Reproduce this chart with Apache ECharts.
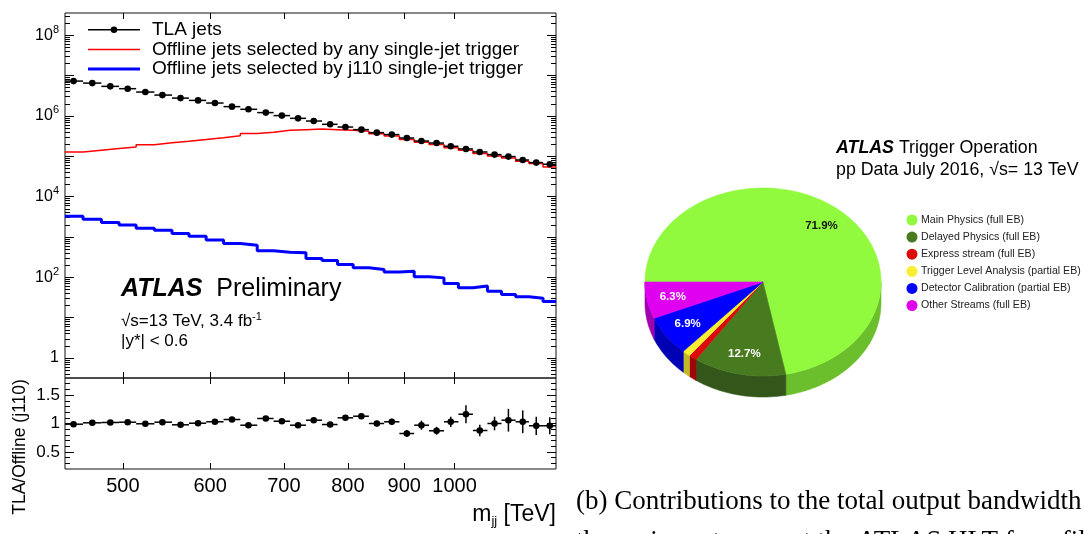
<!DOCTYPE html>
<html><head><meta charset="utf-8">
<script src="https://cdn.jsdelivr.net/npm/echarts@6/dist/echarts.min.js"></script>
<style>html,body{margin:0;padding:0;background:#fff}#c{width:1084px;height:534px}</style>
</head><body><div id="c"></div>
<script>
// ---------------- DATA ----------------
const binEdges = [443, 460, 478, 496, 514, 534, 554, 574, 595, 617, 639, 662, 685, 709, 733, 758, 783, 809, 836, 863, 891, 919, 948, 978, 1008, 1039, 1071, 1103, 1136, 1168, 1203, 1236];
const binCenters = [451, 469, 487, 505, 524, 543, 564, 585, 606, 628, 650, 674, 697, 721, 745, 771, 796, 823, 850, 877, 905, 933, 963, 992, 1024, 1054, 1087, 1119, 1153, 1186, 1220];
const tlaJets = [7.31e6, 6.52e6, 5.41e6, 4.74e6, 3.91e6, 3.29e6, 2.77e6, 2.43e6, 2.09e6, 1.70e6, 1.46e6, 1.21e6, 1.02e6, 8.73e5, 7.48e5, 6.20e5, 5.31e5, 4.58e5, 3.86e5, 3.45e5, 2.84e5, 2.39e5, 2.13e5, 1.77e5, 1.52e5, 1.28e5, 1.10e5, 9.84e4, 8.10e4, 6.98e4, 6.34e4];
const offlineAny = [1.28e5, 1.41e5, 1.55e5, 1.70e5, 1.93e5, 2.16e5, 2.35e5, 2.59e5, 2.90e5, 3.25e5, 3.65e5, 3.93e5, 4.40e5, 4.58e5, 4.74e5, 4.58e5, 4.40e5, 4.16e5, 3.60e5, 3.18e5, 2.59e5, 2.22e5, 1.95e5, 1.64e5, 1.41e5, 1.17e5, 1.02e5, 9.07e4, 7.52e4, 6.59e4, 5.43e4];
const offlineJ110 = [3270, 2760, 2290, 1995, 1650, 1470, 1220, 1047, 848, 690, 627, 453, 421, 404, 294, 262, 208, 172, 157, 135, 142, 103, 97, 70.6, 55, 60.6, 45.5, 37.7, 32.9, 30.5, 25.3];
const ratioVals = [0.988, 1.012, 1.018, 1.023, 0.995, 1.023, 0.977, 1.005, 1.030, 1.070, 0.970, 1.088, 1.040, 0.970, 1.058, 0.982, 1.100, 1.128, 1.000, 1.030, 0.824, 0.970, 0.872, 1.030, 1.163, 0.877, 1.000, 1.058, 1.030, 0.960, 0.960];
const ratioErrs = [0.01, 0.01, 0.01, 0.01, 0.01, 0.015, 0.015, 0.02, 0.02, 0.02, 0.025, 0.03, 0.03, 0.035, 0.035, 0.04, 0.045, 0.05, 0.05, 0.055, 0.06, 0.08, 0.07, 0.09, 0.16, 0.10, 0.12, 0.20, 0.20, 0.16, 0.15];
const seriesNames = ['TLA jets', 'Offline jets selected by any single-jet trigger', 'Offline jets selected by j110 single-jet trigger'];
const massTicks = [500, 600, 700, 800, 900, 1000];
const logLabelTicks = [1, 1e2, 1e4, 1e6, 1e8];
const logMajorTicks = [1, 10, 1e2, 1e3, 1e4, 1e5, 1e6, 1e7, 1e8];
const ratioLabelTicks = [0.5, 1, 1.5];
const ratioMinorTicks = [0.3, 0.4, 0.6, 0.7, 0.8, 0.9, 1.1, 1.2, 1.3, 1.4, 1.6, 1.7];

const streamNames = ['Main Physics (full EB)', 'Delayed Physics (full EB)', 'Express stream (full EB)', 'Trigger Level Analysis (partial EB)', 'Detector Calibration (partial EB)', 'Other Streams (full EB)'];
const streamShares = [71.9, 12.7, 1.1, 1.1, 6.9, 6.3];

// ---------------- STYLE ----------------
const SANS = 'Liberation Sans, Arial, Helvetica, sans-serif';
const SERIF = 'Liberation Serif, Times New Roman, serif';
const streamTop = ['#91fa3e', '#487a20', '#dc0a0a', '#f8ee32', '#0000ff', '#e000f0'];
const streamSide = ['#6cbf2c', '#33571a', '#9e0707', '#c2b826', '#0000b4', '#a000b0'];
const PIE = {cx: 763, cy: 282, rx: 118, ry: 94, depth: 21};

const logMinorTicks = [];
for (let k = -1; k <= 8; k++) for (let m = 2; m <= 9; m++) {
  const v = m * Math.pow(10, k);
  if (v > 0.32 && v < 3.56e8) logMinorTicks.push(v);
}

const chart = echarts.init(document.getElementById('c'), null, {renderer: 'canvas', width: 1084, height: 534});

const tickLine = {color: '#000', width: 1};
function xAx(grid, pos, labels) {
  return {
    gridIndex: grid, type: 'log', min: binEdges[0], max: binEdges[binEdges.length - 1], position: pos,
    axisLine: {show: false}, splitLine: {show: false},
    axisTick: {show: true, inside: true, length: 6, customValues: massTicks, lineStyle: tickLine},
    axisLabel: labels ? {show: true, customValues: massTicks, fontSize: 20, fontFamily: SANS, color: '#000', margin: 7,
      formatter: function (v) { return String(Math.round(v)); }} : {show: false}
  };
}
function logY(pos, ticks, len, labels) {
  return {
    gridIndex: 0, type: 'log', min: 0.32, max: 3.56e8, position: pos,
    axisLine: {show: false}, splitLine: {show: false},
    axisTick: {show: true, inside: true, length: len, customValues: ticks, lineStyle: tickLine},
    axisLabel: labels ? {
      show: true, customValues: logLabelTicks, margin: 6, color: '#000', fontFamily: SANS,
      formatter: function (v) {
        const e = Math.round(Math.log10(v));
        return e === 0 ? '{b|1}' : '{b|10}{s|' + e + '}';
      },
      rich: {b: {fontSize: 16, lineHeight: 22, fontFamily: SANS, color: '#000'},
             s: {fontSize: 11, lineHeight: 12, verticalAlign: 'top', fontFamily: SANS, color: '#000'}}
    } : {show: false}
  };
}
function ratioY(pos, ticks, len, labels) {
  return {
    gridIndex: 1, type: 'value', min: 0.2, max: 1.8, position: pos,
    axisLine: {show: false}, splitLine: {show: false},
    axisTick: {show: true, inside: true, length: len, customValues: ticks, lineStyle: tickLine},
    axisLabel: labels ? {show: true, customValues: ratioLabelTicks, margin: 5, fontSize: 17, fontFamily: SANS, color: '#000'} : {show: false}
  };
}

// data built from arrays
const tlaData = tlaJets.map((v, i) => [binEdges[i], binEdges[i + 1], binCenters[i], v]);
const ratioData = ratioVals.map((v, i) => [binEdges[i], binEdges[i + 1], binCenters[i], v, ratioErrs[i]]);
function stepData(vals) {
  const d = vals.map((v, i) => [binEdges[i], v]);
  d.push([binEdges[binEdges.length - 1], vals[vals.length - 1]]);
  return d;
}
const totalShare = streamShares.reduce((a, b) => a + b, 0);
const sliceAngles = [];
{ let acc = 0; streamShares.forEach(v => { const a0 = 180 + acc / totalShare * 360; acc += v; sliceAngles.push([a0, 180 + acc / totalShare * 360]); }); }

function ept(deg, dy, f) {
  const t = deg * Math.PI / 180; f = f || 1;
  return [PIE.cx + PIE.rx * f * Math.cos(t), PIE.cy + PIE.ry * f * Math.sin(t) + (dy || 0)];
}

const option = {
  animation: false,
  backgroundColor: '#fff',
  grid: [
    {left: 65, top: 13, width: 491, height: 365, show: true, borderColor: '#111', borderWidth: 1, backgroundColor: 'transparent', outerBoundsMode: 'none', containLabel: false},
    {left: 65, top: 378, width: 491, height: 91, show: true, borderColor: '#111', borderWidth: 1, backgroundColor: 'transparent', outerBoundsMode: 'none', containLabel: false}
  ],
  xAxis: [xAx(0, 'bottom', false), xAx(0, 'top', false), xAx(1, 'bottom', true), xAx(1, 'top', false)],
  yAxis: [
    logY('left', logMajorTicks, 9, true), logY('left', logMinorTicks, 5, false),
    logY('right', logMajorTicks, 9, false), logY('right', logMinorTicks, 5, false),
    ratioY('left', ratioLabelTicks, 9, true), ratioY('left', ratioMinorTicks, 5, false),
    ratioY('right', ratioLabelTicks, 9, false), ratioY('right', ratioMinorTicks, 5, false)
  ],
  legend: {
    show: true, orient: 'vertical', left: 88, top: 20, padding: 0, itemWidth: 52, itemHeight: 8, itemGap: 0,
    selectedMode: false,
    textStyle: {fontSize: 19, fontFamily: SANS, color: '#000', lineHeight: 19.6, padding: [0, 0, 0, 7]},
    data: [
      {name: seriesNames[0], icon: 'path://M0,0M52,8M0,3.25h52v1.5h-52zM22.7,4a3.3,3.3 0 1,1 6.6,0a3.3,3.3 0 1,1 -6.6,0z'},
      {name: seriesNames[1], icon: 'path://M0,0M52,8M0,3.25h52v1.5h-52z'},
      {name: seriesNames[2], icon: 'path://M0,0M52,8M0,2.5h52v3h-52z'}
    ]
  },
  series: [
    {
      name: seriesNames[1], type: 'line', xAxisIndex: 0, yAxisIndex: 0, step: 'end', showSymbol: false, symbol: 'none',
      data: stepData(offlineAny), lineStyle: {color: '#ff0000', width: 1.5}, itemStyle: {color: '#ff0000'}, z: 3
    },
    {
      name: seriesNames[2], type: 'line', xAxisIndex: 0, yAxisIndex: 0, step: 'end', showSymbol: false, symbol: 'none',
      data: stepData(offlineJ110), lineStyle: {color: '#0000ff', width: 3}, itemStyle: {color: '#0000ff'}, z: 3
    },
    {
      name: seriesNames[0], type: 'custom', xAxisIndex: 0, yAxisIndex: 0, data: tlaData, z: 4,
      itemStyle: {color: '#000'}, encode: {x: [0, 1, 2], y: 3},
      renderItem: function (params, api) {
        const p0 = api.coord([api.value(0), api.value(3)]);
        const p1 = api.coord([api.value(1), api.value(3)]);
        const pc = api.coord([api.value(2), api.value(3)]);
        return {type: 'group', children: [
          {type: 'line', shape: {x1: p0[0], y1: p0[1], x2: p1[0], y2: p1[1]}, style: {stroke: '#000', lineWidth: 1.5}},
          {type: 'circle', shape: {cx: pc[0], cy: pc[1], r: 3.3}, style: {fill: '#000'}}
        ]};
      }
    },
    {
      name: 'TLA/Offline (j110)', type: 'custom', xAxisIndex: 2, yAxisIndex: 4, data: ratioData, z: 4,
      encode: {x: [0, 1, 2], y: 3},
      renderItem: function (params, api) {
        const v = api.value(3), e = api.value(4);
        const p0 = api.coord([api.value(0), v]);
        const p1 = api.coord([api.value(1), v]);
        const pc = api.coord([api.value(2), v]);
        const pl = api.coord([api.value(2), v - e]);
        const ph = api.coord([api.value(2), v + e]);
        return {type: 'group', children: [
          {type: 'line', shape: {x1: p0[0], y1: p0[1], x2: p1[0], y2: p1[1]}, style: {stroke: '#000', lineWidth: 1.5}},
          {type: 'line', shape: {x1: pl[0], y1: pl[1], x2: ph[0], y2: ph[1]}, style: {stroke: '#000', lineWidth: 1.5}},
          {type: 'circle', shape: {cx: pc[0], cy: pc[1], r: 3.3}, style: {fill: '#000'}}
        ]};
      }
    },
    {
      name: 'streams', type: 'custom', coordinateSystem: 'none', silent: true,
      data: streamShares.map((v, i) => ({name: streamNames[i], value: v})),
      renderItem: function (params, api) {
        const i = params.dataIndex;
        const a = sliceAngles[i][0], b = sliceAngles[i][1];
        const children = [];
        const s = Math.max(a, 360), e = Math.min(b, 540);
        if (e > s) {
          const pts = [];
          const n = Math.max(2, Math.ceil(e - s));
          for (let k = 0; k <= n; k++) pts.push(ept(s + (e - s) * k / n, 0));
          for (let k = n; k >= 0; k--) pts.push(ept(s + (e - s) * k / n, PIE.depth));
          children.push({type: 'polygon', shape: {points: pts}, style: {fill: streamSide[i], stroke: streamSide[i], lineWidth: 0.6}});
        }
        const top = [[PIE.cx, PIE.cy]];
        const n2 = Math.max(2, Math.ceil(b - a));
        for (let k = 0; k <= n2; k++) top.push(ept(a + (b - a) * k / n2, 0));
        children.push({type: 'polygon', shape: {points: top}, style: {fill: streamTop[i], stroke: streamTop[i], lineWidth: 0.6}});
        const v = api.value(0);
        if (v > 5) {
          const lp = ept((a + b) / 2, 0, 0.78);
          children.push({type: 'text', x: lp[0], y: lp[1], style: {
            text: v.toFixed(1) + '%', align: 'center', verticalAlign: 'middle',
            fontSize: 11.5, fontWeight: 'bold', fontFamily: SANS, fill: i === 0 ? '#111' : '#fff'}});
        }
        return {type: 'group', children: children};
      }
    }
  ],
  graphic: [
    {type: 'text', left: 121, top: 277, style: {
      text: '{a|ATLAS}{p|  Preliminary}', rich: {
        a: {fontSize: 25, fontWeight: 'bold', fontStyle: 'italic', fontFamily: SANS, fill: '#000'},
        p: {fontSize: 25, fontFamily: SANS, fill: '#000'}}}},
    {type: 'text', left: 121, top: 311, style: {
      text: '{t|√s=13 TeV, 3.4 fb}{u|-1}', rich: {
        t: {fontSize: 17, lineHeight: 20, fontFamily: SANS, fill: '#000'},
        u: {fontSize: 11, lineHeight: 11, verticalAlign: 'top', fontFamily: SANS, fill: '#000'}}}},
    {type: 'text', left: 121, top: 333, style: {text: '|y*| < 0.6', fontSize: 17, fontFamily: SANS, fill: '#000'}},
    {type: 'text', x: 20, y: 447, rotation: Math.PI / 2, style: {
      text: 'TLA/Offline (j110)', align: 'center', verticalAlign: 'middle', fontSize: 17.5, fontFamily: SANS, fill: '#000'}},
    {type: 'text', right: 1084 - 556, top: 503, style: {
      text: '{m|m}{j|jj}{m| [TeV]}', rich: {
        m: {fontSize: 23, lineHeight: 26, fontFamily: SANS, fill: '#000'},
        j: {fontSize: 13, lineHeight: 12, verticalAlign: 'bottom', fontFamily: SANS, fill: '#000'}}}},
    {type: 'text', left: 836, top: 139, style: {
      text: '{a|ATLAS}{b| Trigger Operation}\n{b|pp Data July 2016, √s= 13 TeV}', rich: {
        a: {fontSize: 17.8, lineHeight: 22, fontWeight: 'bold', fontStyle: 'italic', fontFamily: SANS, fill: '#000'},
        b: {fontSize: 17.8, lineHeight: 22, fontFamily: SANS, fill: '#000'}}}},
    ...streamNames.map((nm, i) => ({type: 'circle', shape: {cx: 912, cy: 220 + i * 17.1, r: 5.5}, style: {fill: streamTop[i]}})),
    ...streamNames.map((nm, i) => ({type: 'text', x: 921, y: 220 + i * 17.1, style: {
      text: nm, fontSize: 10.6, fontFamily: SANS, fill: '#222', verticalAlign: 'middle', align: 'left'}})),
    {type: 'text', x: 576, y: 502, style: {text: '(b) Contributions to the total output bandwidth', fontSize: 27, fontFamily: SERIF, fill: '#000', verticalAlign: 'middle'}},
    {type: 'text', x: 576, y: 542, style: {text: 'the various streams at the ATLAS HLT for a fill', fontSize: 27, fontFamily: SERIF, fill: '#000', verticalAlign: 'middle'}}
  ]
};
chart.setOption(option);
</script>
</body></html>
